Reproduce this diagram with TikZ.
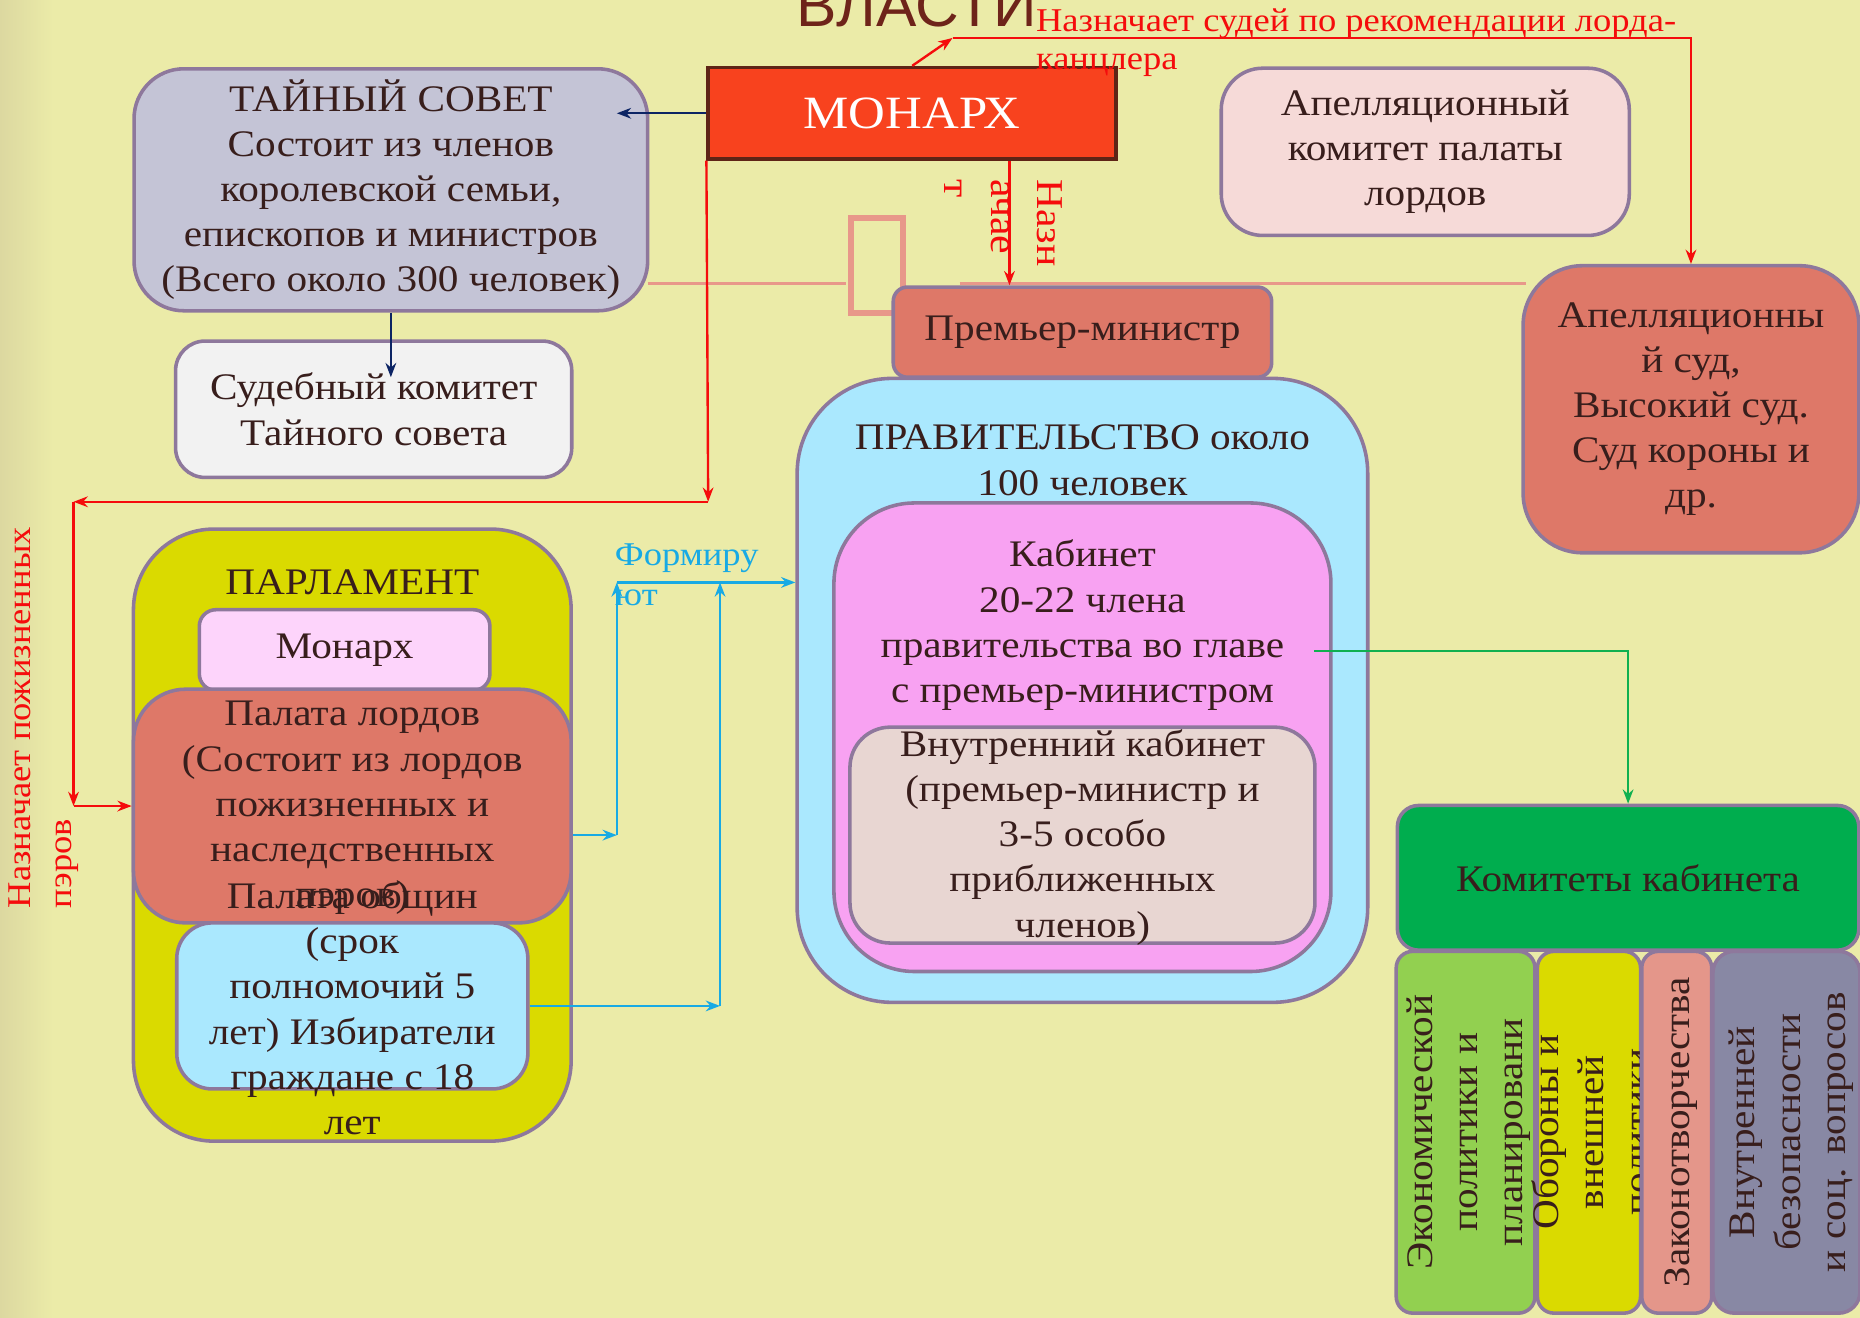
\documentclass[tikz,border=0pt]{standalone}
\usepackage{fontspec}
\setmainfont[FakeStretch=1.1]{Liberation Serif}
\setsansfont{Liberation Sans}
\usepackage{xcolor}
\usetikzlibrary{arrows.meta,positioning}
\definecolor{bgyellow}{RGB}{235,235,168}
\definecolor{bgshade}{RGB}{220,216,160}
\definecolor{boxline}{RGB}{142,120,156}
\definecolor{ink}{RGB}{56,30,28}
\definecolor{monarchred}{RGB}{248,66,30}
\definecolor{monarchline}{RGB}{94,36,22}
\definecolor{titlebrown}{RGB}{110,36,26}
\definecolor{privyfill}{RGB}{196,196,214}
\definecolor{judfill}{RGB}{242,242,242}
\definecolor{appealfill}{RGB}{246,218,216}
\definecolor{terracotta}{RGB}{222,120,104}
\definecolor{skyfill}{RGB}{170,232,254}
\definecolor{cabfill}{RGB}{248,162,242}
\definecolor{innerfill}{RGB}{232,214,210}
\definecolor{olivefill}{RGB}{218,218,0}
\definecolor{pinkfill}{RGB}{253,212,251}
\definecolor{cabcomfill}{RGB}{0,173,78}
\definecolor{econfill}{RGB}{146,208,80}
\definecolor{lawfill}{RGB}{228,150,138}
\definecolor{greyfill}{RGB}{136,136,164}
\definecolor{salmonline}{RGB}{232,152,138}
\definecolor{redline}{RGB}{245,12,12}
\definecolor{navyline}{RGB}{12,36,100}
\definecolor{skyline}{RGB}{24,170,228}
\definecolor{greenline}{RGB}{16,176,80}

\begin{document}
\begin{tikzpicture}[
    x=0.5pt, y=-0.5pt,
    box/.style={draw=boxline, line width=1.5pt, text=ink, align=center, inner sep=0pt, font=\fontsize{15.8}{19}\selectfont},
    txt/.style={text=ink, align=center, inner sep=0pt, font=\fontsize{15.8}{19}\selectfont},
    redtxt/.style={text=redline, inner sep=0pt},
    arrow/.style={-{Stealth[length=6pt,width=4.5pt]}, line width=1pt},
    redarrow/.style={arrow, redline},
    navyarrow/.style={arrow, navyline},
    bluearrow/.style={arrow, skyline},
    greenarrow/.style={arrow, greenline},
    salmon/.style={salmonline, line width=1.3pt}
]
\fill[bgyellow] (0,0) rectangle (1568,1111);
\shade[left color=bgshade, right color=bgyellow] (0,0) rectangle (45,1111);
\useasboundingbox (0,0) rectangle (1568,1111);

\node[font=\fontsize{25.5}{25.5}\selectfont\sffamily, text=titlebrown, anchor=base, inner sep=0pt] (title) at (773,22.5) {ВЛАСТИ};

\coordinate (salL) at (713,239);
\coordinate (salR) at (809,239);
\draw[salmon] (546,239) -- (salL);
\draw[salmon] (salR) -- (1286,239);
\node[draw=salmonline, line width=2.5pt, minimum width=22pt, minimum height=40pt, inner sep=0pt] (stub) at (739.5,223.5) {};

\node[box, draw=monarchline, fill=monarchred, text=white, minimum width=172pt, minimum height=38.5pt, font=\fontsize{19.5}{20}\selectfont] (monarch) at (769,95.5) {МОНАРХ};

\node[box, fill=privyfill, minimum width=216.5pt, minimum height=102pt, rounded corners=21pt] (privy) at (329.5,160) {ТАЙНЫЙ СОВЕТ\\Состоит из членов\\королевской семьи,\\епископов и министров\\(Всего около 300 человек)};
\node[box, fill=judfill, minimum width=167pt, minimum height=57.5pt, rounded corners=12.5pt] (judicial) at (315,345) {Судебный комитет\\Тайного совета};

\node[box, fill=appealfill, minimum width=172pt, minimum height=70.5pt, rounded corners=17.5pt] (appealcom) at (1201.5,128) {Апелляционный\\комитет палаты\\лордов};
\node[box, fill=terracotta, minimum width=141.5pt, minimum height=121pt, rounded corners=25pt] (appealcourt) at (1425.5,345) {Апелляционны\\й суд,\\Высокий суд.\\Суд короны и\\др.};

\node[box, fill=terracotta, minimum width=159.5pt, minimum height=38pt, rounded corners=6pt] (pm) at (912.5,280) {Премьер-министр};
\node[box, fill=skyfill, minimum width=240.5pt, minimum height=263pt, rounded corners=40pt] (gov) at (912.5,582) {};
\node[txt] (govtitle) at (912.5,388) {ПРАВИТЕЛЬСТВО около\\100 человек};
\node[box, fill=cabfill, minimum width=209.5pt, minimum height=197.5pt, rounded corners=34pt] (cabinet) at (912.5,621.5) {};
\node[txt] (cabtitle) at (912.5,527) {Кабинет\\20-22 члена\\правительства во главе\\с премьер-министром};
\node[box, fill=innerfill, minimum width=196pt, minimum height=91pt, rounded corners=17pt] (inner) at (912.5,704) {};
\node[txt] (innertext) at (912.5,706) {Внутренний кабинет\\(премьер-министр и\\3-5 особо\\приближенных\\членов)};

\node[box, fill=olivefill, minimum width=184.5pt, minimum height=258pt, rounded corners=34pt] (parl) at (297,704) {};
\node[txt] (parltitle) at (297,491) {ПАРЛАМЕНТ};
\node[box, fill=pinkfill, minimum width=122.5pt, minimum height=34pt, rounded corners=7pt] (pmonarch) at (290.5,548) {Монарх};
\node[box, fill=terracotta, minimum width=184.5pt, minimum height=98.5pt, rounded corners=22pt] (lords) at (297,679.5) {};
\node[txt] (lordstext) at (297,681) {Палата лордов\\(Состоит из лордов\\пожизненных и\\наследственных\\пэров)};
\node[box, fill=skyfill, minimum width=148pt, minimum height=70pt, rounded corners=15pt] (commons) at (297,848) {};
\node[txt] (commonstext) at (297,850) {Палата общин\\(срок\\полномочий 5\\лет) Избиратели\\граждане с 18\\лет};

\node[box, fill=cabcomfill, minimum width=194.5pt, minimum height=61pt, rounded corners=9pt] (cabcom) at (1372.5,740) {Комитеты кабинета};
\node[box, fill=econfill, minimum width=58.5pt, minimum height=152.5pt, rounded corners=7pt] (econ) at (1235.5,954.5) {};
\node[txt, rotate=90] (econtext) at (1238,954.5) {Экономической\\политики и\\планировани};
\node[box, fill=olivefill, minimum width=43.5pt, minimum height=152.5pt, rounded corners=7pt] (defense) at (1339.5,954.5) {};
\node[txt, rotate=90] (defensetext) at (1341,954.5) {Обороны и\\внешней\\политики};
\node[box, fill=lawfill, minimum width=29.5pt, minimum height=152.5pt, rounded corners=7pt] (law) at (1413.5,954.5) {};
\node[txt, rotate=90] (lawtext) at (1417,954.5) {Законотворчества};
\node[box, fill=greyfill, minimum width=62pt, minimum height=152.5pt, rounded corners=9pt] (internal) at (1506,954.5) {};
\node[txt, rotate=90] (internaltext) at (1510,954.5) {Внутренней\\безопасности\\и соц. вопросов};

\coordinate (privytip) at (520,95.5);
\coordinate (judtip) at (329.5,318);
\draw[navyarrow] (monarch.west) -- (privytip);
\draw[navyarrow] (privy.south) -- (judtip);

\coordinate (judges) at (803,32);
\draw[redarrow] (monarch.north) -- (judges);
\draw[redarrow] (judges) -| (appealcourt.north);
\node[redtxt, anchor=north west, align=left, font=\fontsize{14}{16.2}\selectfont] (judgesnote) at (873,7) {Назначает судей по рекомендации лорда-\\канцлера};

\draw[redarrow] ([xshift=41pt]monarch.south) -- ([xshift=41pt]monarch.south |- pm.north);
\node[redtxt, rotate=-90, align=left, font=\fontsize{16}{19.5}\selectfont] (pmnote) at (846,188) {Назн\\ачае\\т};

\coordinate (peersA) at (597,423);
\coordinate (peersB) at (62,423);
\coordinate (peersC) at (62,679.5);
\draw[redarrow] (monarch.south west) -- (peersA);
\draw[redarrow] (peersA) -- (peersB);
\draw[redarrow] (peersB) -- (peersC);
\draw[redarrow] (peersC) -- (lords.west);
\node[redtxt, rotate=90, align=left, font=\fontsize{14}{17.5}\selectfont] (peersnote) at (37,605) {Назначает пожизненных\\пэров};

\coordinate (formA) at (520,704);
\coordinate (formB) at (520,491);
\coordinate (formC) at (607,848);
\draw[bluearrow] (lords.east |- formA) -- (formA);
\draw[bluearrow] (formA) -- (formB);
\draw[bluearrow] (formB) -- (gov.west |- formB);
\draw[bluearrow] (commons.east |- formC) -- (formC);
\draw[bluearrow] (formC) -- (formC |- formB);
\node[text=skyline, anchor=north west, align=left, inner sep=0pt, font=\fontsize{14}{17}\selectfont] (formnote) at (518,458) {Формиру\\ют};

\coordinate (cabout) at (1108,549);
\draw[greenarrow] (cabout) -| (cabcom.north);
\end{tikzpicture}
\end{document}
